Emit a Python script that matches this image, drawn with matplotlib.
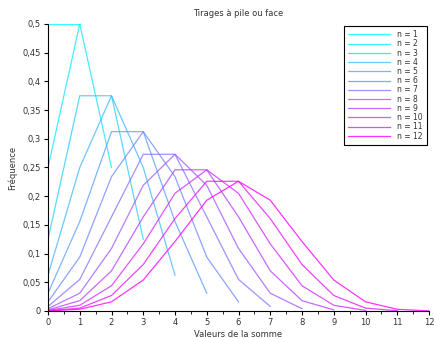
import numpy as np
import matplotlib
matplotlib.use("Agg")
import matplotlib.pyplot as plt
from matplotlib.ticker import FuncFormatter, MultipleLocator

# Frequencies, one list per number of throws n
freq_n1 = [0.5, 0.5]
freq_n2 = [0.25, 0.5, 0.25]
freq_n3 = [0.125, 0.375, 0.375, 0.125]
freq_n4 = [0.0625, 0.25, 0.375, 0.25, 0.0625]
freq_n5 = [0.031, 0.156, 0.3125, 0.3125, 0.156, 0.031]
freq_n6 = [0.016, 0.094, 0.234, 0.3125, 0.234, 0.094, 0.016]
freq_n7 = [0.008, 0.055, 0.164, 0.273, 0.273, 0.164, 0.055, 0.008]
freq_n8 = [0.004, 0.031, 0.109, 0.219, 0.273, 0.219, 0.109, 0.031, 0.004]
freq_n9 = [0.002, 0.018, 0.070, 0.164, 0.246, 0.246, 0.164, 0.070, 0.018, 0.002]
freq_n10 = [0.001, 0.010, 0.044, 0.117, 0.205, 0.246, 0.205, 0.117, 0.044,
            0.010, 0.001]
freq_n11 = [0.0005, 0.005, 0.027, 0.081, 0.161, 0.226, 0.226, 0.161, 0.081,
            0.027, 0.005, 0.0005]
freq_n12 = [0.0002, 0.003, 0.016, 0.054, 0.121, 0.193, 0.226, 0.193, 0.121,
            0.054, 0.016, 0.003, 0.0002]

series = [freq_n1, freq_n2, freq_n3, freq_n4, freq_n5, freq_n6,
          freq_n7, freq_n8, freq_n9, freq_n10, freq_n11, freq_n12]
labels = ["n = %d" % (i + 1) for i in range(len(series))]

text_col = '#333333'
plt.rcParams['font.size'] = 6
plt.rcParams['text.color'] = text_col
plt.rcParams['axes.labelcolor'] = text_col
plt.rcParams['xtick.labelcolor'] = text_col
plt.rcParams['ytick.labelcolor'] = text_col

fig = plt.figure(figsize=(4.34, 3.38), dpi=100)
ax = fig.add_axes([48 / 434, 1 - 311 / 338, 381 / 434, 287 / 338])

colors = plt.cm.cool(np.linspace(0, 1, len(series)))
for vals, lab, col in zip(series, labels, colors):
    ax.plot(np.arange(len(vals)), vals, color=col, lw=0.9, alpha=0.8,
            label=lab)

ax.set_xlim(0, 12)
ax.set_ylim(0, 0.5)
ax.xaxis.set_major_locator(MultipleLocator(1))
ax.xaxis.set_minor_locator(MultipleLocator(0.5))
ax.yaxis.set_major_locator(MultipleLocator(0.05))


def comma_fmt(v, pos):
    s = ("%.2f" % v).rstrip("0").rstrip(".")
    return s.replace(".", ",")


ax.yaxis.set_major_formatter(FuncFormatter(comma_fmt))
ax.tick_params(which='major', direction='out', length=3, width=0.8, pad=2)
ax.tick_params(which='minor', direction='out', length=2, width=0.6)
ax.spines['top'].set_visible(False)
ax.spines['right'].set_visible(False)

ax.set_title("Tirages à pile ou face", fontsize=6, pad=6)
ax.set_xlabel("Valeurs de la somme", fontsize=6, labelpad=2)
ax.set_ylabel("Fréquence", fontsize=6, labelpad=4)

leg = ax.legend(loc='upper right', bbox_to_anchor=(1.0, 1.0),
                fontsize=5.5, handlelength=5.5, handletextpad=0.9,
                labelspacing=0.03, borderpad=0.6, borderaxespad=0.2,
                fancybox=False, framealpha=1, edgecolor='black')
leg.get_frame().set_linewidth(0.8)

fig.savefig("out.png", dpi=100, facecolor='white')
